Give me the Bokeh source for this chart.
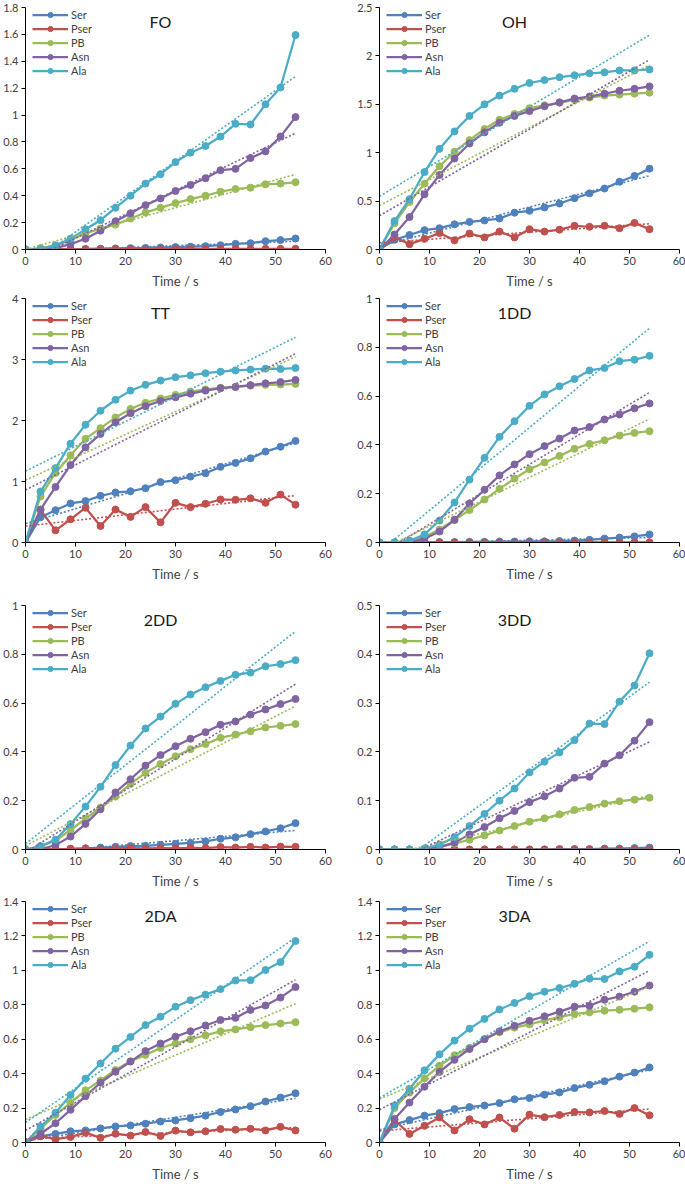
import numpy as np
from bokeh.plotting import figure
from bokeh.layouts import column, row
from bokeh.models import Legend, LegendItem, Label, FixedTicker, CustomJSTickFormatter
from bokeh.embed import file_html
from bokeh.resources import INLINE

time_s = [0, 3, 6, 9, 12, 15, 18, 21, 24, 27, 30, 33, 36, 39, 42, 45, 48, 51, 54]
series_names = ["Ser", "Pser", "PB", "Asn", "Ala"]
series_colors = ["#4F81BD", "#C0504D", "#9BBB59", "#8064A2", "#4BACC6"]
x_ticks = [0, 10, 20, 30, 40, 50, 60]
panel_titles = ["FO", "OH", "TT", "1DD", "2DD", "3DD", "2DA", "3DA"]

# FO
fo_ser = [0, 0.001, 0.002, 0.003, 0.004, 0.006, 0.008, 0.010, 0.012, 0.015, 0.018, 0.021, 0.025, 0.032, 0.042, 0.047, 0.062, 0.070, 0.082]
fo_pser = [0, 0.001, 0.001, 0.001, 0.002, 0.002, 0.002, 0.003, 0.003, 0.003, 0.003, 0.004, 0.004, 0.004, 0.004, 0.004, 0.005, 0.005, 0.005]
fo_pb = [0, 0.010, 0.030, 0.070, 0.120, 0.155, 0.185, 0.230, 0.275, 0.310, 0.345, 0.375, 0.400, 0.430, 0.450, 0.460, 0.485, 0.490, 0.500]
fo_asn = [0, 0.003, 0.010, 0.040, 0.080, 0.140, 0.210, 0.270, 0.330, 0.380, 0.435, 0.480, 0.530, 0.590, 0.600, 0.680, 0.730, 0.840, 0.985]
fo_ala = [0, 0.005, 0.030, 0.080, 0.150, 0.218, 0.310, 0.400, 0.490, 0.560, 0.650, 0.720, 0.770, 0.840, 0.935, 0.930, 1.080, 1.205, 1.595]
fo_y_ticks = [0, 0.2, 0.4, 0.6, 0.8, 1, 1.2, 1.4, 1.6, 1.8]

# OH
oh_ser = [0, 0.10, 0.15, 0.20, 0.22, 0.26, 0.285, 0.30, 0.32, 0.38, 0.40, 0.435, 0.475, 0.53, 0.58, 0.63, 0.70, 0.76, 0.835]
oh_pser = [0, 0.13, 0.055, 0.11, 0.17, 0.095, 0.165, 0.125, 0.185, 0.125, 0.21, 0.185, 0.205, 0.245, 0.235, 0.245, 0.22, 0.275, 0.21]
oh_pb = [0, 0.27, 0.49, 0.68, 0.86, 1.01, 1.13, 1.245, 1.34, 1.40, 1.46, 1.49, 1.515, 1.545, 1.57, 1.59, 1.60, 1.61, 1.62]
oh_asn = [0, 0.155, 0.335, 0.57, 0.77, 0.94, 1.095, 1.21, 1.31, 1.38, 1.43, 1.48, 1.52, 1.56, 1.58, 1.61, 1.64, 1.66, 1.685]
oh_ala = [0, 0.294, 0.52, 0.80, 1.04, 1.22, 1.38, 1.50, 1.59, 1.66, 1.72, 1.75, 1.78, 1.80, 1.82, 1.83, 1.85, 1.85, 1.86]
oh_y_ticks = [0, 0.5, 1, 1.5, 2, 2.5]

# TT
tt_ser = [0, 0.415, 0.53, 0.64, 0.68, 0.765, 0.82, 0.84, 0.89, 0.99, 1.02, 1.08, 1.135, 1.24, 1.305, 1.38, 1.49, 1.57, 1.665]
tt_pser = [0, 0.535, 0.20, 0.38, 0.57, 0.27, 0.54, 0.42, 0.58, 0.33, 0.65, 0.58, 0.635, 0.705, 0.70, 0.725, 0.65, 0.785, 0.62]
tt_pb = [0, 0.755, 1.14, 1.43, 1.70, 1.875, 2.05, 2.19, 2.29, 2.36, 2.42, 2.475, 2.51, 2.535, 2.55, 2.57, 2.585, 2.59, 2.60]
tt_asn = [0, 0.54, 0.91, 1.27, 1.56, 1.78, 1.97, 2.12, 2.235, 2.32, 2.38, 2.44, 2.49, 2.53, 2.55, 2.58, 2.61, 2.63, 2.665]
tt_ala = [0, 0.835, 1.22, 1.62, 1.93, 2.16, 2.34, 2.49, 2.585, 2.655, 2.71, 2.74, 2.775, 2.80, 2.82, 2.835, 2.85, 2.845, 2.86]
tt_y_ticks = [0, 1, 2, 3, 4]

# 1DD
d1_ser = [0, 0, 0.001, 0.001, 0.002, 0.002, 0.003, 0.003, 0.004, 0.004, 0.005, 0.005, 0.006, 0.008, 0.011, 0.016, 0.020, 0.025, 0.033]
d1_pser = [0, 0, 0, 0, 0, 0, 0, 0, 0, 0.001, 0.001, 0.001, 0.001, 0.001, 0.001, 0.001, 0.001, 0.001, 0.001]
d1_pb = [0, 0, 0.008, 0.023, 0.053, 0.092, 0.133, 0.176, 0.220, 0.262, 0.300, 0.328, 0.355, 0.384, 0.404, 0.419, 0.438, 0.449, 0.456]
d1_asn = [0, 0, 0.001, 0.015, 0.045, 0.093, 0.160, 0.216, 0.275, 0.320, 0.362, 0.395, 0.426, 0.459, 0.473, 0.504, 0.525, 0.550, 0.570]
d1_ala = [0, 0, 0.007, 0.033, 0.090, 0.164, 0.258, 0.347, 0.433, 0.497, 0.560, 0.607, 0.640, 0.670, 0.705, 0.715, 0.743, 0.749, 0.765]
d1_y_ticks = [0, 0.2, 0.4, 0.6, 0.8, 1]

# 2DD
d2_ser = [0, 0.001, 0.002, 0.003, 0.005, 0.008, 0.011, 0.014, 0.015, 0.019, 0.023, 0.027, 0.033, 0.044, 0.050, 0.063, 0.074, 0.087, 0.108]
d2_pser = [0, 0.002, 0.001, 0.003, 0.004, 0.002, 0.005, 0.006, 0.004, 0.006, 0.005, 0.007, 0.006, 0.010, 0.008, 0.011, 0.008, 0.012, 0.011]
d2_pb = [0, 0.011, 0.037, 0.080, 0.126, 0.172, 0.217, 0.269, 0.314, 0.350, 0.382, 0.411, 0.432, 0.458, 0.471, 0.485, 0.500, 0.507, 0.514]
d2_asn = [0, 0.001, 0.018, 0.053, 0.105, 0.165, 0.234, 0.288, 0.344, 0.387, 0.423, 0.454, 0.481, 0.511, 0.525, 0.553, 0.574, 0.596, 0.617]
d2_ala = [0, 0.014, 0.040, 0.104, 0.176, 0.257, 0.346, 0.426, 0.496, 0.545, 0.597, 0.635, 0.665, 0.691, 0.716, 0.725, 0.751, 0.760, 0.776]
d2_y_ticks = [0, 0.2, 0.4, 0.6, 0.8, 1]

# 3DD
d3_ser = [0, 0, 0, 0, 0, 0, 0, 0, 0, 0, 0, 0, 0.001, 0.001, 0.001, 0.002, 0.002, 0.003, 0.004]
d3_pser = [0, 0, 0, 0, 0, 0, 0, 0, 0, 0, 0, 0, 0, 0, 0, 0, 0, 0, 0]
d3_pb = [0, 0, 0, 0.002, 0.006, 0.012, 0.020, 0.029, 0.039, 0.048, 0.057, 0.064, 0.072, 0.081, 0.087, 0.094, 0.099, 0.102, 0.106]
d3_asn = [0, 0, 0, 0.001, 0.005, 0.014, 0.031, 0.046, 0.064, 0.079, 0.097, 0.109, 0.125, 0.147, 0.149, 0.176, 0.193, 0.223, 0.261]
d3_ala = [0, 0, 0, 0.002, 0.010, 0.025, 0.048, 0.073, 0.100, 0.125, 0.158, 0.180, 0.199, 0.224, 0.258, 0.257, 0.303, 0.336, 0.402]
d3_y_ticks = [0, 0.1, 0.2, 0.3, 0.4, 0.5]

# 2DA
a2_ser = [0, 0.036, 0.050, 0.065, 0.070, 0.082, 0.093, 0.099, 0.109, 0.122, 0.128, 0.141, 0.156, 0.177, 0.192, 0.211, 0.238, 0.261, 0.286]
a2_pser = [0, 0.038, 0.019, 0.032, 0.057, 0.027, 0.051, 0.040, 0.061, 0.038, 0.069, 0.059, 0.065, 0.078, 0.074, 0.080, 0.070, 0.091, 0.070]
a2_pb = [0, 0.080, 0.160, 0.230, 0.303, 0.360, 0.421, 0.472, 0.509, 0.549, 0.575, 0.600, 0.623, 0.646, 0.657, 0.670, 0.682, 0.691, 0.699]
a2_asn = [0, 0.051, 0.112, 0.190, 0.269, 0.347, 0.411, 0.470, 0.531, 0.575, 0.615, 0.646, 0.680, 0.712, 0.724, 0.770, 0.796, 0.842, 0.903]
a2_ala = [0, 0.093, 0.173, 0.276, 0.371, 0.459, 0.545, 0.613, 0.682, 0.731, 0.789, 0.827, 0.859, 0.891, 0.941, 0.943, 1.002, 1.048, 1.170]
a2_y_ticks = [0, 0.2, 0.4, 0.6, 0.8, 1, 1.2, 1.4]

# 3DA
a3_ser = [0, 0.105, 0.130, 0.156, 0.171, 0.194, 0.206, 0.215, 0.229, 0.251, 0.259, 0.278, 0.291, 0.316, 0.335, 0.356, 0.383, 0.406, 0.436]
a3_pser = [0, 0.131, 0.050, 0.097, 0.145, 0.070, 0.135, 0.105, 0.145, 0.080, 0.162, 0.147, 0.160, 0.177, 0.175, 0.183, 0.166, 0.200, 0.158]
a3_pb = [0, 0.200, 0.290, 0.373, 0.446, 0.507, 0.550, 0.600, 0.640, 0.667, 0.686, 0.709, 0.728, 0.747, 0.756, 0.766, 0.771, 0.777, 0.785]
a3_asn = [0, 0.137, 0.232, 0.324, 0.410, 0.480, 0.543, 0.600, 0.646, 0.678, 0.707, 0.733, 0.760, 0.789, 0.794, 0.829, 0.848, 0.876, 0.912]
a3_ala = [0, 0.213, 0.312, 0.419, 0.512, 0.592, 0.661, 0.718, 0.773, 0.811, 0.850, 0.876, 0.897, 0.922, 0.952, 0.950, 0.994, 1.021, 1.090]
a3_y_ticks = [0, 0.2, 0.4, 0.6, 0.8, 1, 1.2, 1.4]

panel_series = [
    [fo_ser, fo_pser, fo_pb, fo_asn, fo_ala],
    [oh_ser, oh_pser, oh_pb, oh_asn, oh_ala],
    [tt_ser, tt_pser, tt_pb, tt_asn, tt_ala],
    [d1_ser, d1_pser, d1_pb, d1_asn, d1_ala],
    [d2_ser, d2_pser, d2_pb, d2_asn, d2_ala],
    [d3_ser, d3_pser, d3_pb, d3_asn, d3_ala],
    [a2_ser, a2_pser, a2_pb, a2_asn, a2_ala],
    [a3_ser, a3_pser, a3_pb, a3_asn, a3_ala],
]
panel_ticks = [fo_y_ticks, oh_y_ticks, tt_y_ticks, d1_y_ticks, d2_y_ticks, d3_y_ticks, a2_y_ticks, a3_y_ticks]
# x-axis title alignment per panel (reference shows some titles left of centre)
title_align = ["right", "center", "right", "center", "right", "right", "right", "right"]

FONT = "Lato"
TXT = "#404040"
row_heights = [291, 307, 296, 290]
row_bottoms = [42, 56, 45, 42]
TOP = 7
col_widths = [345, 340]
col_left = [25, 34]
col_right = [20, 6]

fmt = CustomJSTickFormatter(code="return String(Math.round(tick*1000)/1000);")


def make_panel(idx):
    r, c = divmod(idx, 2)
    ticks = panel_ticks[idx]
    ymax = ticks[-1]
    h = row_heights[r]
    plot_h = h - TOP - row_bottoms[r]
    p = figure(width=col_widths[c], height=h, x_range=(0, 60), y_range=(0, ymax),
               output_backend="svg", toolbar_location=None,
               min_border_left=col_left[c], min_border_right=col_right[c],
               min_border_top=TOP, min_border_bottom=row_bottoms[r])
    p.xgrid.visible = False
    p.ygrid.visible = False
    p.outline_line_color = None
    p.background_fill_color = "white"
    p.border_fill_color = "white"
    p.xaxis.ticker = FixedTicker(ticks=x_ticks)
    p.yaxis.ticker = FixedTicker(ticks=ticks)
    p.yaxis.formatter = fmt
    for ax in (p.xaxis[0], p.yaxis[0]):
        ax.axis_line_color = "black"
        ax.axis_line_width = 1
        ax.major_tick_line_color = "black"
        ax.minor_tick_line_color = None
        ax.major_tick_out = 4
        ax.major_tick_in = 0
        ax.major_label_text_font = FONT
        ax.major_label_text_font_size = "11px"
        ax.major_label_text_color = TXT
        ax.major_label_standoff = 3
    p.xaxis.axis_label = "Time / s"
    p.xaxis.axis_label_text_font = FONT
    p.xaxis.axis_label_text_font_size = "13px"
    p.xaxis.axis_label_text_font_style = "normal"
    p.xaxis.axis_label_text_color = TXT
    p.xaxis.axis_label_standoff = 5
    p.xaxis.axis_label_text_align = title_align[idx]

    items = []
    vals_list = panel_series[idx]
    for name, col, vals in zip(series_names, series_colors, vals_list):
        lr = p.line(time_s, vals, line_width=2.25, line_color=col)
        sr = p.scatter(time_s, vals, size=7, marker="circle", fill_color=col, line_color=col)
        items.append(LegendItem(label=name, renderers=[lr, sr]))
    for col, vals in zip(series_colors, vals_list):
        k, b = np.polyfit(time_s, vals, 1)
        tx = [time_s[0], time_s[-1]]
        p.line(tx, [b + k * t for t in tx], line_width=1.6, line_color=col, line_dash="2 2")

    legend = Legend(items=items, location=(7, plot_h - 70), orientation="vertical",
                    glyph_width=36, glyph_height=13, label_height=13, label_standoff=3,
                    spacing=1, padding=0, margin=0, border_line_color=None,
                    background_fill_alpha=0, label_text_font=FONT,
                    label_text_font_size="11px", label_text_color=TXT)
    p.add_layout(legend)
    p.add_layout(Label(x=27, y=ymax * 0.943, text=panel_titles[idx], text_align="center",
                       text_baseline="middle", text_font=FONT, text_font_size="16px",
                       text_font_style="normal", text_color="#1a1a1a"))
    return p


figs = [make_panel(i) for i in range(8)]
layout = column(row(figs[0], figs[1]), row(figs[2], figs[3]),
                row(figs[4], figs[5]), row(figs[6], figs[7]))

open("out.html", "w").write(file_html(layout, INLINE))
